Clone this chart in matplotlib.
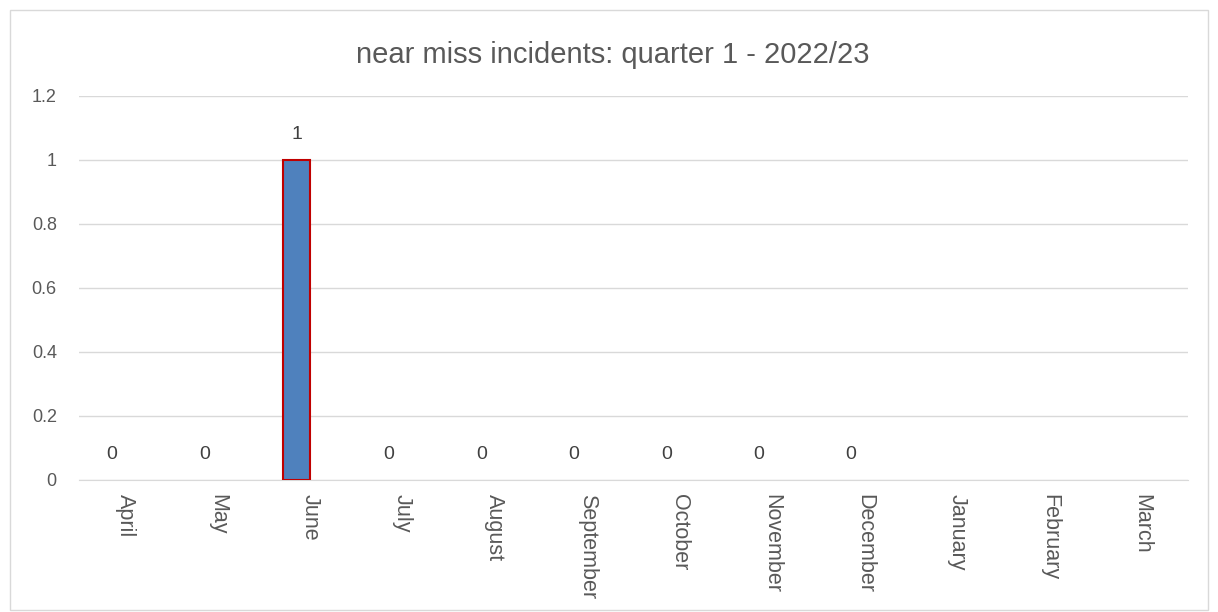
import numpy as np
import matplotlib.pyplot as plt
from matplotlib.patches import Rectangle

plt.rcParams['font.family'] = ['Liberation Sans', 'DejaVu Sans']

months = ['April', 'May', 'June', 'July', 'August', 'September', 'October',
          'November', 'December', 'January', 'February', 'March']
# Jan-Mar not reported yet
incidents = [0, 0, 1, 0, 0, 0, 0, 0, 0, None, None, None]

txt = '#595959'
grid = '#d9d9d9'

fig = plt.figure(figsize=(12.18, 6.12), dpi=100)
fig.patches.append(Rectangle((10 / 1218, 2 / 612), 1198 / 1218, 600 / 612,
                             transform=fig.transFigure, fill=False,
                             edgecolor=grid, linewidth=1))
ax = fig.add_axes([79 / 1218, 132 / 612, 1109 / 1218, 384 / 612])

x = np.arange(len(months))
shift = -0.145  # bars sit a bit left of the category centre
vals = [v if v is not None else 0 for v in incidents]
bars = ax.bar(x + shift, vals, width=0.29, color='#4f81bd', edgecolor='#c00000',
              linewidth=1.5, zorder=3)
for b, v in zip(bars, vals):
    if v == 0:
        b.set_linewidth(0)

for xi, v in zip(x, incidents):
    if v is None:
        continue
    ax.annotate(str(v), (xi + shift, v), xytext=(0, 12.5), textcoords='offset points',
                ha='center', va='bottom', fontsize=14, color='#404040')

ax.set_xlim(-0.5, len(months) - 0.5)
ax.set_ylim(0, 1.2)
ax.set_yticks([0, 0.2, 0.4, 0.6, 0.8, 1, 1.2])
ax.set_yticklabels(['0', '0.2', '0.4', '0.6', '0.8', '1', '1.2'])
ax.set_xticks(x)
ax.set_xticklabels(months, rotation=270, va='top', ha='center')
ax.tick_params(axis='both', length=0, colors=txt)
ax.tick_params(axis='x', pad=10, labelsize=15.5)
ax.tick_params(axis='y', pad=16, labelsize=13)
ax.grid(axis='y', color=grid, linewidth=1, zorder=0)
for s in ['top', 'right', 'left']:
    ax.spines[s].set_visible(False)
ax.spines['bottom'].set_color(grid)

fig.text(613 / 1218, 1 - 55 / 612, 'near miss incidents: quarter 1 - 2022/23',
         ha='center', va='center', fontsize=21, color=txt)

fig.savefig('out.png', dpi=100)
